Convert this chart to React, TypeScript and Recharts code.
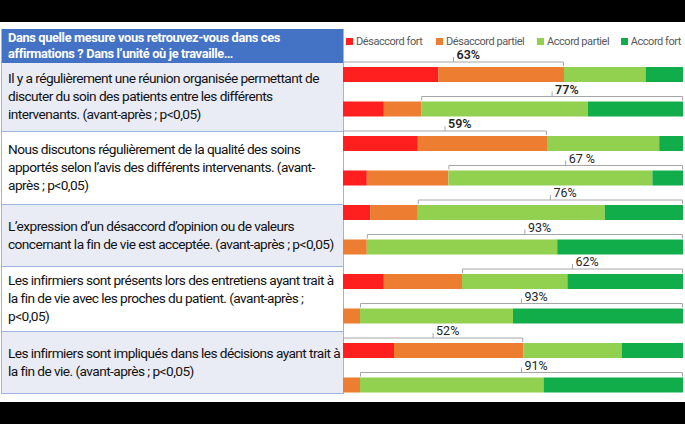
import { Bar, BarChart, Legend, XAxis, YAxis } from 'recharts';

const categories = [
  'Q1 avant', 'Q1 après',
  'Q2 avant', 'Q2 après',
  'Q3 avant', 'Q3 après',
  'Q4 avant', 'Q4 après',
  'Q5 avant', 'Q5 après',
];
const desaccordFort = [28, 12, 22, 7, 8, 0, 12, 0, 15, 0];
const desaccordPartiel = [37, 11, 38, 24, 14, 7, 23, 5, 38, 5];
const accordPartiel = [24, 49, 33, 60, 55, 56, 31, 45, 29, 54];
const accordFort = [11, 28, 7, 9, 23, 37, 34, 50, 18, 41];
const bracketLabels = ['63%', '77%', '59%', '67 %', '76%', '93%', '62%', '93%', '52%', '91%'];
const bracketSides = ['desaccord', 'accord', 'desaccord', 'accord', 'accord', 'accord', 'accord', 'accord', 'desaccord', 'accord'];

const headerLines = [
  'Dans quelle mesure vous retrouvez-vous dans ces',
  'affirmations ? Dans l’unité où je travaille…',
];
const statements = [
  [
    'Il y a régulièrement une réunion organisée permettant de',
    'discuter du soin des patients entre les différents',
    'intervenants. (avant-après ; p<0,05)',
  ],
  [
    'Nous discutons régulièrement de la qualité des soins',
    'apportés selon l’avis des différents intervenants. (avant-',
    'après ; p<0,05)',
  ],
  [
    'L’expression d’un désaccord d’opinion ou de valeurs',
    'concernant la fin de vie est acceptée. (avant-après ; p<0,05)',
  ],
  [
    'Les infirmiers sont présents lors des entretiens ayant trait à',
    'la fin de vie avec les proches du patient. (avant-après ;',
    'p<0,05)',
  ],
  [
    'Les infirmiers sont impliqués dans les décisions ayant trait à',
    'la fin de vie. (avant-après ; p<0,05)',
  ],
];

const seriesNames = ['Désaccord fort', 'Désaccord partiel', 'Accord partiel', 'Accord fort'];
const COLORS = ['#FF1F1F', '#ED7D31', '#92D050', '#12AD4B'];

const data = categories.map((name, i) => ({
  name,
  df: desaccordFort[i],
  dp: desaccordPartiel[i],
  ap: accordPartiel[i],
  af: accordFort[i],
}));

const FONT = 'Roboto, sans-serif';
const rowHeights = [69, 73, 62, 65, 62];

// accord partiel bar + the bracket/percentage above the row
function BracketShape(props: any) {
  const { x, y, width, height, fill, index } = props;
  const ppu = width / accordPartiel[index];
  let x0: number;
  let x1: number;
  if (bracketSides[index] === 'desaccord') {
    x1 = x;
    x0 = x - (desaccordFort[index] + desaccordPartiel[index]) * ppu;
  } else {
    x0 = x;
    x1 = x + (accordPartiel[index] + accordFort[index]) * ppu;
  }
  const lineY = y - 5;
  const mid = (x0 + x1) / 2;
  return (
    <g>
      <rect x={x} y={y} width={width} height={height} fill={fill} />
      <path
        d={`M${x0 + 0.5},${y - 1} V${lineY} H${x1 - 0.5} V${y - 1} M${mid},${lineY} V${lineY - 5}`}
        stroke="#A6A6A6"
        strokeWidth={1}
        fill="none"
      />
      <text
        x={mid + 3}
        y={lineY - 3}
        fontSize={12.5}
        fontFamily={FONT}
        fontWeight={index < 3 ? 600 : 400}
        fill="#262626"
      >
        {bracketLabels[index]}
      </text>
    </g>
  );
}

const legendWidths = [90, 101, 84, 60];

function LegendContent() {
  return (
    <div style={{ display: 'flex', height: 16, alignItems: 'center', fontFamily: FONT, fontSize: 11, letterSpacing: -0.45, color: '#595959' }}>
      {seriesNames.map((n, i) => (
        <div key={n} style={{ width: legendWidths[i], display: 'flex', alignItems: 'center', whiteSpace: 'nowrap' }}>
          <span style={{ width: 7, height: 7, background: COLORS[i], marginRight: 3, display: 'inline-block' }} />
          {n}
        </div>
      ))}
    </div>
  );
}

export default function App() {
  return (
    <div style={{ position: 'absolute', left: 0, top: 0, width: 685, height: 426, background: '#fff', overflow: 'hidden' }}>
      <div style={{ position: 'absolute', left: 0, top: 0, width: 685, height: 22, background: '#000' }} />
      <div style={{ position: 'absolute', left: 0, top: 402, width: 685, height: 22, background: '#000' }} />

      <div
        style={{
          position: 'absolute',
          left: 1,
          top: 29,
          width: 341,
          overflow: 'hidden',
          borderLeft: '1.5px solid #9DB3E0',
          borderRight: '1px solid #9DB3E0',
          fontFamily: FONT,
          fontSize: 13.7,
          letterSpacing: -0.56,
          lineHeight: '17.7px',
          color: '#111',
        }}
      >
        <div
          style={{
            height: 34,
            background: '#4472C4',
            color: '#fff',
            fontWeight: 700,
            fontSize: 12.8,
            letterSpacing: -0.35,
            padding: '1px 0 0 6px',
            boxSizing: 'border-box',
            lineHeight: '16px',
          }}
        >
          {headerLines.map((l) => (
            <div key={l} style={{ whiteSpace: 'nowrap' }}>{l}</div>
          ))}
        </div>
        {statements.map((lines, r) => (
          <div
            key={r}
            style={{
              height: rowHeights[r],
              boxSizing: 'border-box',
              borderBottom: '1.5px solid #9DB3E0',
              background: r % 2 === 0 ? '#E9EBF5' : '#fff',
              display: 'flex',
              flexDirection: 'column',
              justifyContent: 'center',
              paddingLeft: 6,
            }}
          >
            {lines.map((l) => (
              <div key={l} style={{ whiteSpace: 'nowrap' }}>{l}</div>
            ))}
          </div>
        ))}
      </div>

      <div style={{ position: 'absolute', left: 340, top: 0 }}>
        <BarChart
          width={345}
          height={426}
          data={data}
          layout="vertical"
          margin={{ top: 41, right: 2, bottom: 24, left: 3 }}
          barSize={15}
        >
          <XAxis type="number" domain={[0, 100]} hide />
          <YAxis type="category" dataKey="name" hide />
          <Legend verticalAlign="top" align="left" wrapperStyle={{ top: 33, left: 6 }} content={<LegendContent />} />
          <Bar dataKey="df" name={seriesNames[0]} stackId="s" fill={COLORS[0]} isAnimationActive={false} />
          <Bar dataKey="dp" name={seriesNames[1]} stackId="s" fill={COLORS[1]} isAnimationActive={false} />
          <Bar dataKey="ap" name={seriesNames[2]} stackId="s" fill={COLORS[2]} isAnimationActive={false} shape={<BracketShape />} />
          <Bar dataKey="af" name={seriesNames[3]} stackId="s" fill={COLORS[3]} isAnimationActive={false} />
        </BarChart>
      </div>
    </div>
  );
}
